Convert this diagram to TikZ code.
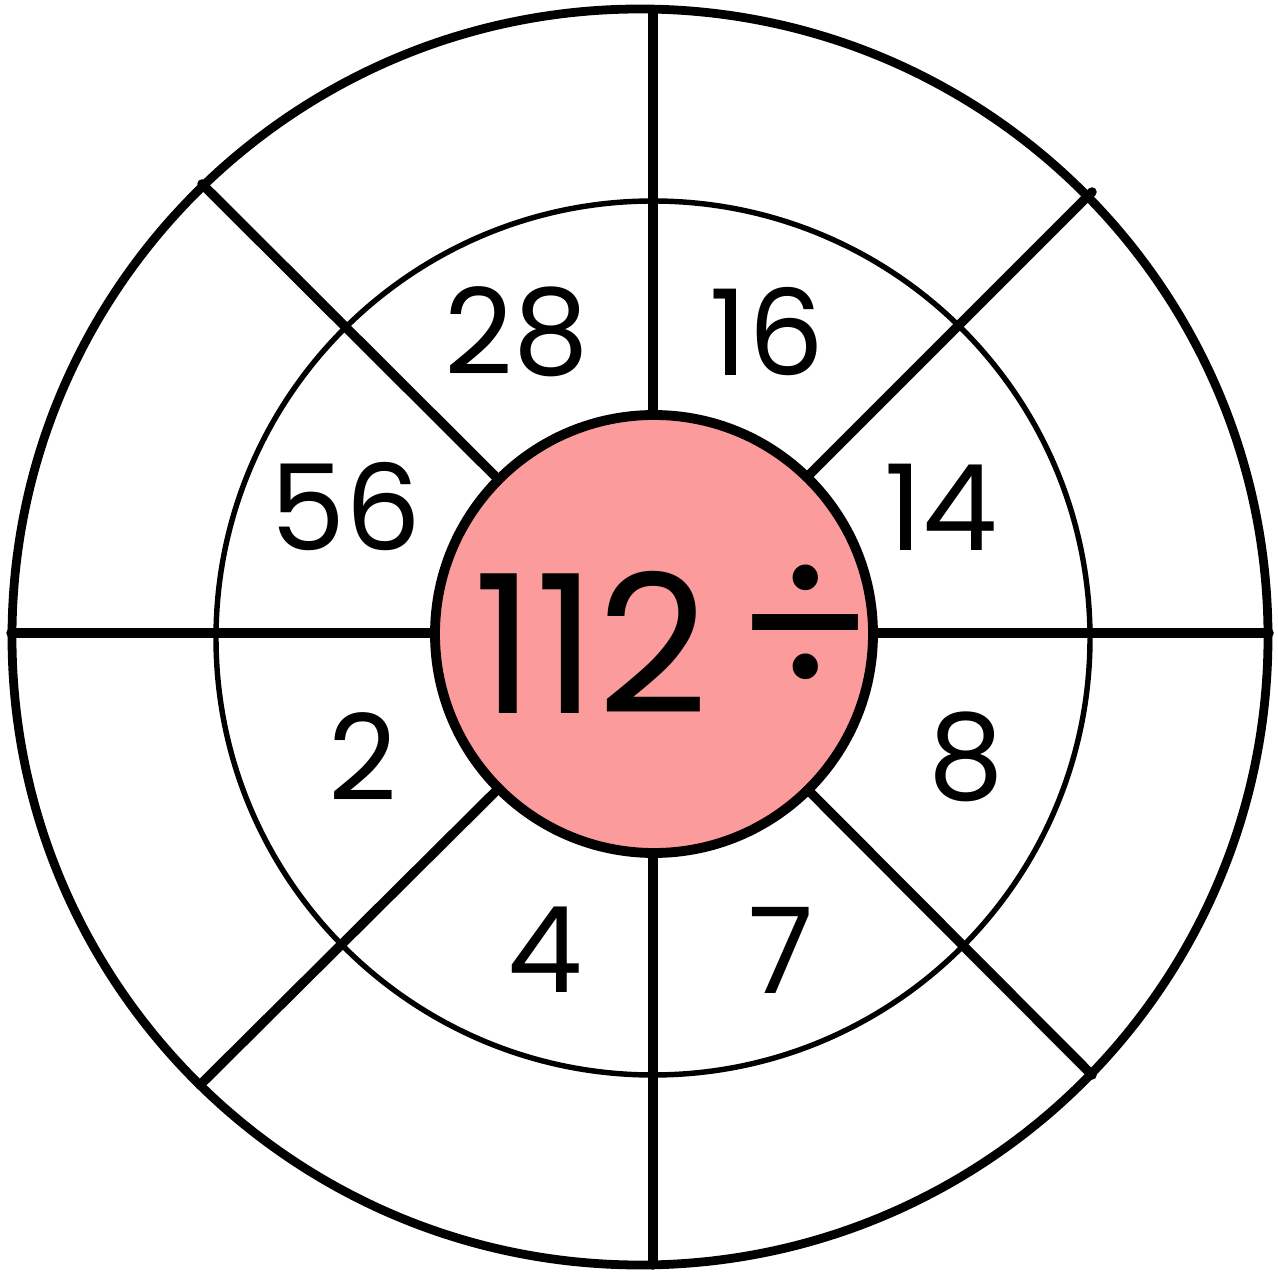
\documentclass[tikz,border=0pt]{standalone}
\usepackage{fontspec}
\setmainfont{Poppins}
\usepackage{tikz}
\definecolor{centrepink}{RGB}{252,155,155}

\begin{document}
\begin{tikzpicture}[x=0.02cm, y=0.02cm]
		\tikzset{spoke/.style={line width=5.4pt, line cap=round},
			ring/.style={line width=3.1pt},
			num/.style={font=\fontsize{68}{68}\selectfont, inner sep=0pt}}
		\useasboundingbox (0,0) rectangle (1278,1272);
		% rings and spokes
		\draw[line width=5pt] (640,635) circle (628);
		\draw[ring] (653,634) circle (437);
		\draw[spoke] (653,1262) -- (653,7);
		\draw[spoke] (11,639) -- (1269,639);
		\draw[spoke] (202,1088) -- (497,794);
		\draw[spoke] (1092,1080) -- (808,796);
		\draw[spoke] (200,187) -- (497,482);
		\draw[spoke] (1092,197) -- (808,482);
		% centre
		\draw[line width=5.6pt, fill=centrepink] (654,638) circle (219);
		\node[font=\fontsize{110}{110}\selectfont, inner sep=0pt] (total) at (591,630) {112};
		\node[font=\fontsize{118}{118}\selectfont, inner sep=0pt] (divide) at (805,640) {÷};
		% divisors
		\node[num] (d28) at (517,940) {28};
		\node[num] (d16) at (767,940) {16};
		\node[num] (d56) at (346,765) {56};
		\node[num] (d14) at (941,765) {14};
		\node[num] (d2) at (363,515) {2};
		\node[num] (d8) at (966,515) {8};
		\node[num] (d4) at (545,322) {4};
		\node[num] (d7) at (781,322) {7};
	\end{tikzpicture}
\end{document}
